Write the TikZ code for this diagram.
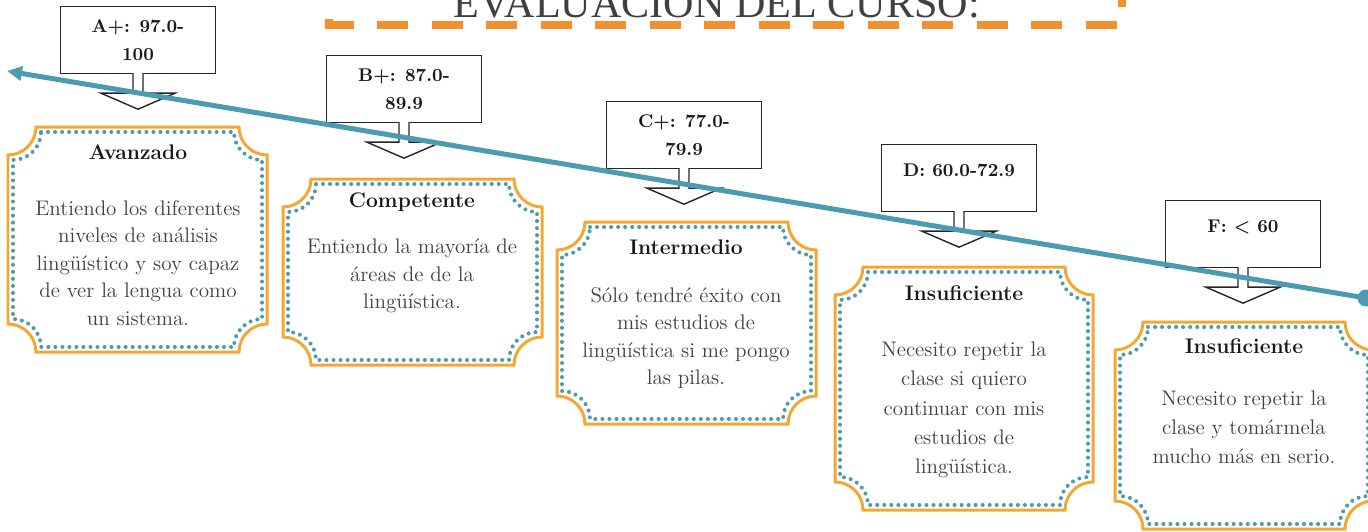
\documentclass[tikz,border=0pt]{standalone}
\usepackage{fontspec}
\newfontfamily\titulofont{Liberation Serif}
\usetikzlibrary{arrows.meta}
\definecolor{naranja}{RGB}{242,144,46}
\definecolor{ocre}{RGB}{245,167,51}
\definecolor{azul}{RGB}{76,155,176}
\definecolor{tinta}{RGB}{64,64,64}
\newcommand{\contorno}[5]{({#1+#5},{#2}) -- ({#3-#5},{#2})
  .. controls ({#3-#5},{#2+0.55*#5}) and ({#3-0.55*#5},{#2+#5}) .. ({#3},{#2+#5}) -- ({#3},{#4-#5})
  .. controls ({#3-0.55*#5},{#4-#5}) and ({#3-#5},{#4-0.55*#5}) .. ({#3-#5},{#4}) -- ({#1+#5},{#4})
  .. controls ({#1+#5},{#4-0.55*#5}) and ({#1+0.55*#5},{#4-#5}) .. ({#1},{#4-#5}) -- ({#1},{#2+#5})
  .. controls ({#1+0.55*#5},{#2+#5}) and ({#1+#5},{#2+0.55*#5}) .. cycle}
\newcommand{\marco}[4]{\draw[borde] \contorno{#1}{#2}{#3}{#4}{28};
  \draw[puntos] \contorno{#1+5}{#2+5}{#3-5}{#4-5}{28};}
\newcommand{\flecha}[1]{\draw[black!85,line width=0.8pt,fill=white] (#1.south) ++(-5,-1)
  -- ++(0,20) -- ++(-32,0) -- ++(37,16) -- ++(37,-16) -- ++(-32,0) -- ++(0,-20);}
\tikzset{
  titulobox/.style={draw=naranja, line width=0.16cm, dash pattern=on 0.62cm off 0.47cm, dash phase=0.6cm},
  borde/.style={draw=ocre, line width=0.06cm},
  puntos/.style={draw=azul, line width=2.3pt, line cap=round, dash pattern=on 0pt off 4pt},
  nota/.style={draw=black!85, line width=0.8pt, fill=white, minimum width=3.1cm, minimum height=1.34cm,
    align=center, text=black!90, font=\bfseries\fontsize{10.5}{16}\selectfont},
  cabeza/.style={text=black!90, font=\bfseries\fontsize{12}{14}\selectfont},
  cuerpo/.style={align=center, inner sep=0pt, text=tinta, font=\fontsize{12}{15.6}\selectfont},
  eje/.style={draw=azul, line width=0.1cm, -{Triangle[length=0.3cm,width=0.28cm]}}
}
\begin{document}
\begin{tikzpicture}[x=0.02cm,y=-0.02cm]
  \useasboundingbox (0,0) rectangle (1368,531);
  \draw[titulobox] (329,-60) -- (329,25) -- (1122,25) -- (1122,-60);
  \node[anchor=base, text=tinta, font=\titulofont\fontsize{24}{28}\selectfont] (titulo) at (717,17) {EVALUACIÓN DEL CURSO:};

  \marco{8}{127}{267}{352}
  \marco{283}{179}{542}{365}
  \marco{557}{222}{816}{424}
  \marco{835}{267}{1093}{510}
  \marco{1115}{322}{1373}{529}

  \node[cabeza] (avanzado) at (138,152) {Avanzado};
  \node[cuerpo] (tA) at (138,263) {Entiendo los diferentes\\niveles de análisis\\lingüístico y soy capaz\\de ver la lengua como\\un sistema.};
  \node[cabeza] (competente) at (412,202) {Competente};
  \node[cuerpo] (tB) at (412,276) {Entiendo la mayoría de\\áreas de de la\\lingüística.};
  \node[cabeza] (intermedio) at (686,247) {Intermedio};
  \node[cuerpo] (tC) at (686,338) {Sólo tendré éxito con\\mis estudios de\\lingüística si me pongo\\las pilas.};
  \node[cabeza] (insuf1) at (964,293) {Insuficiente};
  \node[cuerpo, font=\fontsize{12}{16.6}\selectfont] (tD) at (964,410) {Necesito repetir la\\clase si quiero\\continuar con mis\\estudios de\\lingüística.};
  \node[cabeza] (insuf2) at (1244,346) {Insuficiente};
  \node[cuerpo, font=\fontsize{12}{16.6}\selectfont] (tF) at (1244,427) {Necesito repetir la\\clase y tomármela\\mucho más en serio.};

  \node[nota] (A) at (138,40) {A+: 97.0-\\100};
  \node[nota] (B) at (404,89) {B+: 87.0-\\89.9};
  \node[nota] (C) at (684,135) {C+: 77.0-\\79.9};
  \node[nota, text height=8pt, text depth=10pt] (D) at (959,178) {D: 60.0-72.9};
  \node[nota, text height=8pt, text depth=10pt] (F) at (1243,234) {F: < 60};
  \flecha{A} \flecha{B} \flecha{C} \flecha{D} \flecha{F}

  \coordinate (origen) at (1366,298);
  \coordinate (punta) at (7,71);
  \draw[eje] (origen) -- (punta);
  \fill[azul] (origen) circle (0.17cm);
\end{tikzpicture}
\end{document}
